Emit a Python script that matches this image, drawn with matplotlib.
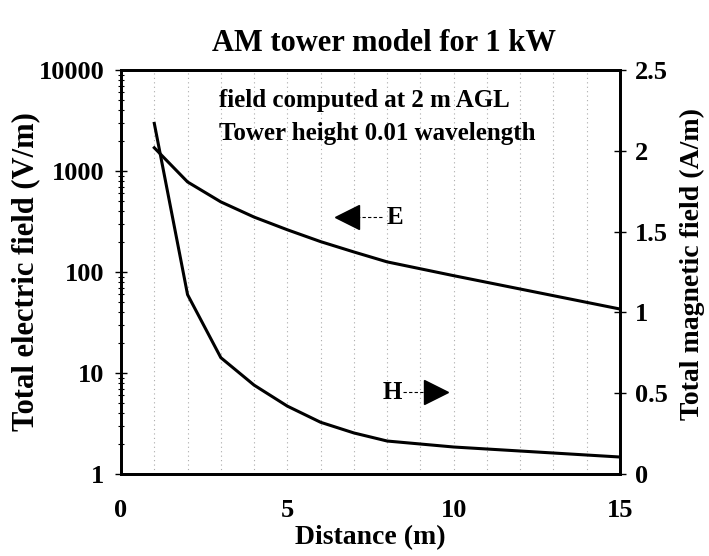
import numpy as np
import matplotlib
matplotlib.use('Agg')
import matplotlib.pyplot as plt

# data
dist = [1, 2, 3, 4, 5, 6, 7, 8, 10, 15]
e_field = [1700, 780, 495, 350, 262, 200, 158, 126, 92, 43]   # V/m, left (log)
h_field = [2.17, 1.11, 0.72, 0.55, 0.42, 0.32, 0.254, 0.204, 0.167, 0.105]  # A/m, right

x_ticks = [0, 5, 10, 15]
left_ticks = [1, 10, 100, 1000, 10000]
right_ticks = [0, 0.5, 1, 1.5, 2, 2.5]

plt.rcParams['font.family'] = ['Liberation Serif', 'DejaVu Serif']
plt.rcParams['font.weight'] = 'bold'

fig = plt.figure(figsize=(7.09, 5.56), dpi=100)
ax = fig.add_axes([0.1707, 0.1475, 0.7038, 0.7265])
ax2 = ax.twinx()

ax.set_yscale('log')
ax.set_ylim(1, 10000)
ax.set_xlim(0, 15)
ax2.set_ylim(0, 2.5)

for xv in range(1, 15):
    ax.axvline(xv, color='#aaaaaa', lw=0.8, ls=(0, (1, 3)), zorder=0)

ax.plot(dist, e_field, color='black', lw=2.2)
ax2.plot(dist, h_field, color='black', lw=2.2)

ax.set_xticks(x_ticks)
ax.set_xticklabels([str(t) for t in x_ticks], fontsize=19, fontweight='bold')
ax.tick_params(axis='x', length=0, pad=18)
ax.set_yticks(left_ticks)
ax.set_yticklabels([str(t) for t in left_ticks], fontsize=19, fontweight='bold')
ax.tick_params(axis='y', which='major', direction='inout', length=8, width=1, pad=8)
ax.tick_params(axis='y', which='minor', direction='inout', length=4, width=0.8)
ax2.set_yticks(right_ticks)
ax2.set_yticklabels(['0', '0.5', '1', '1.5', '2', '2.5'], fontsize=19, fontweight='bold')
ax2.tick_params(axis='y', direction='inout', length=8, width=1, pad=7)

for a in (ax, ax2):
    for s in a.spines.values():
        s.set_linewidth(2)

ax.set_xlabel('Distance (m)', fontsize=20, fontweight='bold', labelpad=2)
ax.set_ylabel('Total electric field (V/m)', fontsize=22, fontweight='bold', va='center')
ax.yaxis.set_label_coords(-0.192, 0.502)
ax2.set_ylabel('Total magnetic field (A/m)', fontsize=20, fontweight='bold', va='center')
ax2.yaxis.set_label_coords(1.146, 0.52)
fig.suptitle('AM tower model for 1 kW', fontsize=22, fontweight='bold', x=0.541, y=0.947)

ax.text(2.95, 5000, 'field computed at 2 m AGL', fontsize=18, fontweight='bold',
        va='center')
ax.text(2.95, 2350, 'Tower height 0.01 wavelength', fontsize=18, fontweight='bold',
        va='center')

# arrow labels
ax.plot([7.85, 7.15], [350, 350], color='black', lw=0.8, ls=(0, (3, 2)))
ax.plot([6.8], [350], marker='<', color='black', ms=17, mec='black')
ax.text(7.98, 350, 'E', fontsize=18, fontweight='bold', va='center')
ax2.plot([8.48, 9.2], [0.507, 0.507], color='black', lw=0.8, ls=(0, (3, 2)))
ax2.plot([9.48], [0.507], marker='>', color='black', ms=17, mec='black')
ax2.text(7.85, 0.507, 'H', fontsize=18, fontweight='bold', va='center')

fig.savefig('out.png', dpi=100)
